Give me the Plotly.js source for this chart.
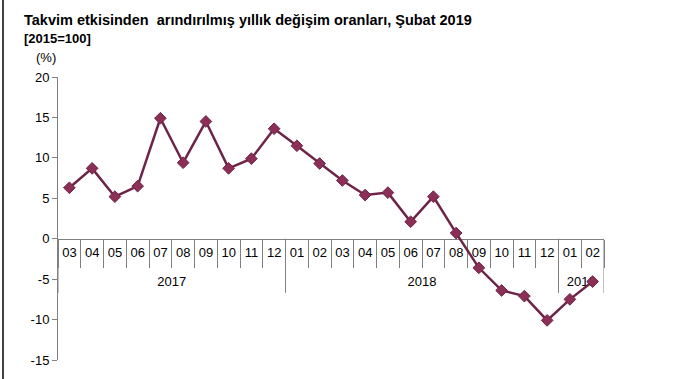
<!DOCTYPE html>
<html>
<head>
<meta charset="utf-8">
<script src="https://cdn.plot.ly/plotly-3.0.1.min.js"></script>
<style>html,body{margin:0;padding:0;background:#fff;}#chart{width:677px;height:379px;}</style>
</head>
<body>
<div id="chart"></div>
<script>
const years = ["2017","2017","2017","2017","2017","2017","2017","2017","2017","2017",
  "2018","2018","2018","2018","2018","2018","2018","2018","2018","2018","2018","2018",
  "2019","2019"];
const months = ["03","04","05","06","07","08","09","10","11","12",
  "01","02","03","04","05","06","07","08","09","10","11","12",
  "01","02"];
const values = [6.3, 8.7, 5.2, 6.5, 14.9, 9.4, 14.5, 8.7, 9.9, 13.6,
  11.5, 9.3, 7.2, 5.4, 5.7, 2.1, 5.2, 0.7, -3.6, -6.4, -7.1, -10.1,
  -7.5, -5.3];
const yTicks = [-15, -10, -5, 0, 5, 10, 15, 20];

const yMin = -15, yMax = 20;
const keys = years.map((y, i) => y + '-' + months[i]);

// year groups: centers for labels, boundaries for dividers
const groups = [];
years.forEach((y, i) => {
  if (!groups.length || groups[groups.length - 1].year !== y) groups.push({year: y, start: i, end: i});
  else groups[groups.length - 1].end = i;
});
const yearCenters = groups.map(g => (g.start + g.end) / 2);
const yearNames = groups.map(g => g.year);
const dividerPos = [groups[0].start - 0.5].concat(groups.map(g => g.end + 0.5));

const trace = {
  type: 'scatter',
  mode: 'lines+markers',
  x: keys,
  y: values,
  line: {color: '#6e2446', width: 2.5},
  marker: {symbol: 'diamond', size: 9, color: '#8b2f57', line: {color: '#6e2446', width: 1}},
  hoverinfo: 'skip'
};
// carrier so the year axis is drawn
const yearTrace = {
  type: 'scatter', mode: 'markers', xaxis: 'x2', yaxis: 'y',
  x: yearCenters, y: yearCenters.map(() => 0),
  marker: {opacity: 0, size: 1}, hoverinfo: 'skip'
};

const axisPos = (0 - yMin) / (yMax - yMin);
const fontFam = 'Liberation Sans, Arial, sans-serif';

const layout = {
  width: 677, height: 379,
  margin: {l: 58, r: 73, t: 77, b: 19},
  paper_bgcolor: '#fff', plot_bgcolor: '#fff',
  showlegend: false,
  font: {family: fontFam, size: 13, color: '#000'},
  xaxis: {
    type: 'category',
    anchor: 'free',
    position: axisPos,
    tickvals: keys,
    ticktext: months,
    tickangle: 0,
    showline: true, linecolor: '#808080', linewidth: 1,
    ticks: 'outside', ticklen: 28, tickcolor: '#808080', tickwidth: 1,
    tickson: 'boundaries',
    ticklabelstandoff: 2,
    showgrid: false, zeroline: false,
    tickfont: {size: 13, color: '#000'},
    layer: 'below traces',
    range: [-0.5, 23.5]
  },
  xaxis2: {
    type: 'linear',
    overlaying: 'x',
    anchor: 'free',
    side: 'bottom',
    position: axisPos,
    range: [-0.5, 23.5],
    tickmode: 'array',
    tickvals: yearCenters,
    ticktext: yearNames,
    tickangle: 0,
    showline: false, ticks: '', showgrid: false, zeroline: false,
    ticklabelstandoff: 33,
    tickfont: {size: 13, color: '#000'},
    layer: 'below traces'
  },
  yaxis: {
    range: [yMin, yMax],
    tickvals: yTicks,
    ticktext: yTicks.map(String),
    showline: true, linecolor: '#808080', linewidth: 1,
    ticks: 'outside', ticklen: 5, tickcolor: '#808080',
    showgrid: false, zeroline: false,
    tickfont: {size: 13, color: '#000'}
  },
  annotations: [
    {text: '<b>Takvim etkisinden  arındırılmış yıllık değişim oranları, Şubat 2019</b>',
     xref: 'paper', yref: 'paper', xanchor: 'left', yanchor: 'top',
     x: (22 - 58) / 546, y: 1 + (77 - 10) / 283, showarrow: false,
     font: {size: 14.5, family: fontFam}},
    {text: '<b>[2015=100]</b>',
     xref: 'paper', yref: 'paper', xanchor: 'left', yanchor: 'top',
     x: (22 - 58) / 546, y: 1 + (77 - 29) / 283, showarrow: false,
     font: {size: 13, family: fontFam}},
    {text: '(%)',
     xref: 'paper', yref: 'paper', xanchor: 'left', yanchor: 'top',
     x: (34 - 58) / 546, y: 1 + (77 - 48) / 283, showarrow: false,
     font: {size: 13, family: fontFam}}
  ],
  shapes: [
    {type: 'line', xref: 'paper', yref: 'paper',
     x0: (3 - 58) / 546, x1: (3 - 58) / 546, y0: -19/283, y1: 1 + 77/283,
     line: {color: '#000', width: 1.5}}
  ].concat(dividerPos.map(p => ({
     type: 'line', xref: 'x', yref: 'y', layer: 'below',
     x0: p, x1: p, y0: 0, y1: -6.7,
     line: {color: '#808080', width: 1}
  })))
};

Plotly.newPlot('chart', [trace, yearTrace], layout, {displayModeBar: false, staticPlot: true});
</script>
</body>
</html>
